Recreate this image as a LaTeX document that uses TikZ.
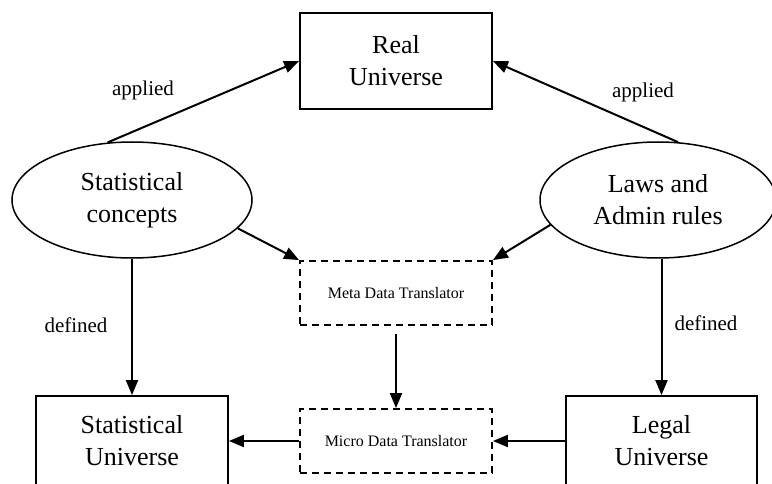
\documentclass[tikz,border=0pt]{standalone}
\usepackage{fontspec}
\setmainfont{Liberation Serif}
\usetikzlibrary{arrows.meta,shapes.geometric}
\begin{document}
\begin{tikzpicture}[x=1pt,y=-1pt,
  big/.style={font=\fontsize{26}{32}\selectfont, align=center},
  solidbox/.style={draw, line width=1.8pt, rectangle, inner sep=0pt, big},
  dashbox/.style={draw, line width=1.8pt, dash pattern=on 7pt off 5pt, rectangle, inner sep=0pt,
     minimum width=192pt, minimum height=64pt, font=\fontsize{16}{19}\selectfont},
  ell/.style={draw, line width=1.5pt, ellipse, inner sep=0pt, big},
  conn/.style={line width=2pt, -{Triangle[length=15pt,width=12pt]}},
  lbl/.style={font=\fontsize{21}{24}\selectfont}
]
\useasboundingbox (0,0) rectangle (772,484);
\node[solidbox, minimum width=192pt, minimum height=96pt] (ru) at (396,61) {Real\\Universe};
\node[ell, minimum width=240pt, minimum height=116pt] (sc) at (132,200) {Statistical\\concepts};
\node[ell, minimum width=236pt, minimum height=116pt] (lr) at (658,200) {Laws and\\Admin rules};
\node[dashbox] (meta) at (396,293) {Meta Data Translator};
\node[dashbox] (micro) at (396,441) {Micro Data Translator};
\node[solidbox, minimum width=192pt, minimum height=90pt] (su) at (132,441) {Statistical\\Universe};
\node[solidbox, minimum width=191pt, minimum height=90pt] (lu) at (661.5,441) {Legal\\Universe};

\draw[conn] (sc.113) -- (ru.west);
\draw[conn] (lr.71) -- (ru.east);
\draw[conn] (sc.-15) -- (meta.north west);
\draw[conn] (lr.193) -- (meta.north east);
\draw[conn] (sc.south) -- (su.north);
\draw[conn] (lr.south -| lu.north) -- (lu.north);
\draw[conn, shorten <=8pt] (meta.south) -- (micro.north);
\draw[conn] (micro.west) -- (su.east);
\draw[conn] (lu.west) -- (micro.east);

\node[lbl] (ap1) at (143,90) {applied};
\node[lbl] (ap2) at (643,92) {applied};
\node[lbl] (df1) at (76,325) {defined};
\node[lbl] (df2) at (706,323) {defined};
\end{tikzpicture}
\end{document}
